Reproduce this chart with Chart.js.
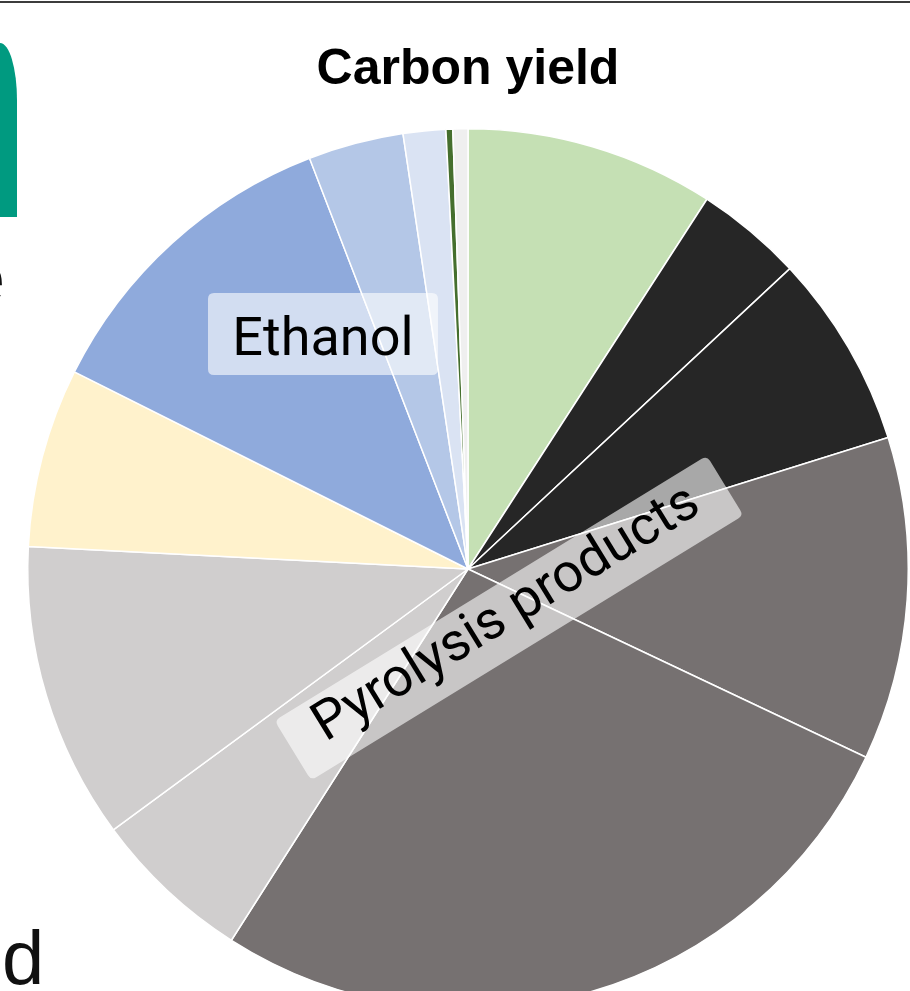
<!DOCTYPE html>
<html>
<head>
<meta charset="utf-8">
<script src="https://cdn.jsdelivr.net/npm/chart.js@4"></script>
<style>
html,body{margin:0;padding:0;background:#fff;overflow:hidden;width:910px;height:991px}
#wrap{position:absolute;left:0;top:0;width:910px;height:1010px}
#topline{position:absolute;left:0;top:1px;width:910px;height:2px;background:#3c3c3c}
#tab{position:absolute;left:0;top:43px;width:17px;height:174px;background:#009a80;border-top-right-radius:17px 57px}
.frag{position:absolute;font-family:"Liberation Sans",Arial,sans-serif;font-size:76px;color:#111;line-height:1;white-space:nowrap}
</style>
</head>
<body>
<div id="topline"></div>
<div id="tab"></div>
<div class="frag" style="left:-37px;top:240px">e</div>
<div class="frag" style="left:2px;top:920px">d</div>
<div id="wrap"><canvas id="c"></canvas></div>
<script>
// ---- data (clockwise from 12 o'clock), percent of total carbon ----
const categories = [
  'Segment 1','Segment 2','Segment 3','Segment 4','Segment 5','Segment 6','Segment 7',
  'Segment 8','Segment 9','Segment 10','Segment 11','Segment 12','Segment 13'
];
const values = [9.13, 3.92, 7.12, 11.86, 27.0, 5.88, 10.9, 6.58, 11.75, 3.5, 1.56, 0.25, 0.55];
const sliceColors = [
  '#c5e0b4','#262626','#262626','#767171','#767171','#d0cece','#d0cece',
  '#fff2cc','#8faadc','#b4c7e7','#dae3f3','#456f2e','#efefef'
];
const titleText = 'Carbon yield';
const groupLabels = ['Ethanol', 'Pyrolysis products'];

// label box placement, relative to pie centre, in units of the pie radius
const labelBoxes = [
  {dx:-0.3294, dy:-0.5338, w:0.5224, h:0.1863, angle:0, base:21},
  {dx:0.0931, dy:0.1113, w:1.1516, h:0.159, angle:-31.5, base:10}
];

function roundRectPath(c, x, y, w, h, r){
  c.beginPath();
  c.moveTo(x+r, y);
  c.lineTo(x+w-r, y); c.quadraticCurveTo(x+w, y, x+w, y+r);
  c.lineTo(x+w, y+h-r); c.quadraticCurveTo(x+w, y+h, x+w-r, y+h);
  c.lineTo(x+r, y+h); c.quadraticCurveTo(x, y+h, x, y+h-r);
  c.lineTo(x, y+r); c.quadraticCurveTo(x, y, x+r, y);
  c.closePath();
}

const labelPlugin = {
  id:'groupLabels',
  afterDatasetsDraw(chart){
    const arc = chart.getDatasetMeta(0).data[0];
    const cx = arc.x, cy = arc.y, R = arc.outerRadius;
    const c = chart.ctx;
    groupLabels.forEach((t, i) => {
      const g = labelBoxes[i];
      c.save();
      c.translate(cx + g.dx*R, cy + g.dy*R);
      c.rotate(g.angle*Math.PI/180);
      const w = g.w*R, h = g.h*R;
      roundRectPath(c, -w/2, -h/2, w, h, 6);
      c.fillStyle = 'rgba(255,255,255,0.6)';
      c.fill();
      c.fillStyle = '#000';
      c.font = '54px Roboto, "Liberation Sans", sans-serif';
      c.textAlign = 'center';
      c.textBaseline = 'alphabetic';
      c.fillText(t, 0, g.base);
      c.restore();
    });
  }
};

new Chart(document.getElementById('c'), {
  type:'pie',
  data:{
    labels:categories,
    datasets:[{data:values, backgroundColor:sliceColors, borderColor:'#ffffff', borderWidth:1.5}]
  },
  options:{
    responsive:true,
    maintainAspectRatio:false,
    animation:false,
    events:[],
    layout:{padding:{left:27, right:1, top:0, bottom:0}},
    plugins:{
      legend:{display:false},
      tooltip:{enabled:false},
      title:{
        display:true,
        text:titleText,
        color:'#000',
        font:{family:'"Liberation Sans", Arial, sans-serif', size:50, weight:'bold', lineHeight:1.2},
        padding:{top:40.5, bottom:27.5}
      }
    }
  },
  plugins:[labelPlugin]
});
</script>
</body>
</html>
